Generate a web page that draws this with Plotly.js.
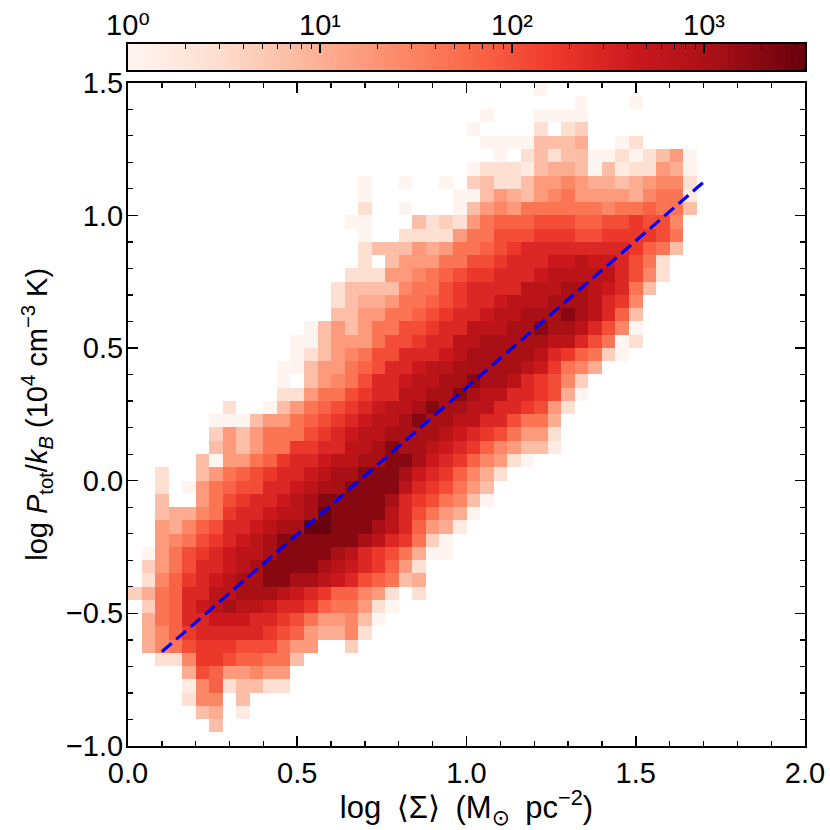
<!DOCTYPE html>
<html>
<head>
<meta charset="utf-8">
<script src="https://cdn.plot.ly/plotly-3.0.1.min.js"></script>
<style>
  html, body { margin: 0; padding: 0; background: #ffffff; }
  #chart { width: 830px; height: 830px; }
</style>
</head>
<body>
<div id="chart"></div>
<script>
// ---- data ----
// 2D histogram: 50 x-bins of 0.04 (0..2), 50 y-bins of 0.05 (-1..1.5)
const X_BIN_START = 0.0;
const X_BIN_WIDTH = 0.04;
const Y_BIN_START = -1.0;
const Y_BIN_WIDTH = 0.05;

// colour level of every cell, rows from top (y 1.45-1.50) to bottom (y -1.00 - -0.95)
// '.' = empty, 'a' .. 'r' = count level (see LEVEL_LOG10)
const CELL_ROWS_TOP_DOWN = [
  ".......... .......... .......... a......... ..........",
  ".......... .......... .......... ...a...a.. ..........",
  ".......... .......... ......a... aaaa...... ..........",
  ".......... .......... .....a.... c.cd...... ..........",
  ".......... .......... ......aaaa eeef..ac.. ..........",
  ".......... .......... .......a.c eceeaacace ga........",
  ".......... .......... .....acccb effeaebccg fa........",
  ".......... .......a.. a..a.decce gghgffefgh hc........",
  ".......... .......a.. ....aaegfe ghiggggfhi ib........",
  ".......... .......c.. a...aeghgi iiiiihiiji ie........",
  ".......... ......aa.. .ecdcgijjj kkkjjkklkk h.........",
  ".......... .......a.. ccccgiikkk lllkkllllk i.........",
  ".......... .......cee egfgiijklm mmmmmmmlji e.........",
  ".......... .......c.e gggiikklmm mnnonnmkic ..........",
  ".......... ......cccg ghijkllmmm nooooomkhc ..........",
  ".......... .....ceeee hiiklmmmmo oopponmie. ..........",
  ".......... .....ceffg iijklmmnoo opppomlh.. ..........",
  ".......... .....eeggi ijklmmnoop ppqpomje.. ..........",
  ".......... ...aegegii kklmmooopp qppomkha.. ..........",
  ".......... ..aaegggik klmmoopppp poomkiac.. ..........",
  ".......... ..aceghikk mmmnoppppp omljida... ..........",
  ".......... .aaeggijkm mnoopppppo nlihf..... ..........",
  ".......... .a.eghikmm nooppqppom lkhd...... ..........",
  ".......... .ccgiiklmm ooppqpoomm lkfa...... ..........",
  ".......c.. aegijklmno opqppoomml kgc....... ..........",
  "......aaae ggijklmnoo pqppoommki if........ ..........",
  "......dgeg iiiklmnoop ppponmlkig gc........ ..........",
  "......egeg iillmmoopq pponmljhge eb........ ..........",
  ".....eaggi jlmmnooppq qpnmljhgca .......... ..........",
  "..c..egijk lmmnoppqqq pnmljhfc.. .......... ..........",
  "..c.agijkk mmnoppqqqq omlkige... .......... ..........",
  "..e..giklm mnopqqqqqp mlkihea... .......... ..........",
  "..effhilmm nooprqqqqo mkigfa.... .......... ..........",
  "..gfhjkmmn opprrqqqpo mjgfb..... .......... ..........",
  "..ghiklmno pqqqqqqpom lida...... .......... ..........",
  ".agiklmnoo pqqqqpomlk ifaa...... .......... ..........",
  ".dgikmmnop qqqqponmlj gc........ .......... ..........",
  ".chjlmnopp qqpponmkji ef........ .......... ..........",
  "dfijmmoopp ponmljjhgc .c........ .......... ..........",
  ".dijmnopoo nmmljiigca .......... .......... ..........",
  ".fijmmnnnm mlkigghea. .......... .......... ..........",
  ".fhjlmmmmm lkjgffhc.. .......... .......... ..........",
  ".fhiklllkk kigg..d... .......... .......... ..........",
  "..cchllkjj iie....... .......... .......... ..........",
  "....fkjggh gg........ .......... .......... ..........",
  "....bhjcee cc........ .......... .......... ..........",
  "....chh.e. .......... .......... .......... ..........",
  ".....ef.b. .......... .......... .......... ..........",
  "......e... .......... .......... .......... ..........",
  ".......... .......... .......... .......... .........."
];

// log10(count) of each level letter
const LEVEL_LOG10 = {
  a: 0.00, b: 0.22, c: 0.44, d: 0.64, e: 0.84, f: 1.04, g: 1.24, h: 1.44, i: 1.64,
  j: 1.84, k: 2.04, l: 2.24, m: 2.44, n: 2.64, o: 2.84, p: 3.04, q: 3.30, r: 3.52
};
const COUNT_LOG10_MIN = 0.0;     // 10^0
const COUNT_LOG10_MAX = 3.526;   // ~3.4e3

// fitted relation (blue dashed line)
const FIT_X = [0.10, 1.70];
const FIT_Y = [-0.645, 1.125];

// colour bar tick labels
const CBAR_TICK_EXP = [0, 1, 2, 3];
const CBAR_TICK_TEXT = ["10\u2070", "10\u00B9", "10\u00B2", "10\u00B3"];

// ---- build ----
const z = CELL_ROWS_TOP_DOWN.slice().reverse().map(function (row) {
  return row.replace(/ /g, "").split("").map(function (ch) {
    return ch === "." ? null : LEVEL_LOG10[ch];
  });
});

const REDS = [
  [0.000, "#fff5f0"], [0.125, "#fee0d2"], [0.250, "#fcbba1"], [0.375, "#fc9272"],
  [0.500, "#fb6a4a"], [0.625, "#ef3b2c"], [0.750, "#cb181d"], [0.875, "#a50f15"],
  [1.000, "#67000d"]
];

// colour-scale strip (the colour bar itself, drawn on its own axis so its ticks sit on top)
const STRIP_N = 400;
const stripStep = (COUNT_LOG10_MAX - COUNT_LOG10_MIN) / STRIP_N;
const stripRow = [];
for (let i = 0; i < STRIP_N; i++) stripRow.push(COUNT_LOG10_MIN + (i + 0.5) * stripStep);

const minorCbar = [];
for (let n = 0; n < 4; n++) {
  for (let m = 2; m <= 9; m++) {
    const v = n + Math.log10(m);
    if (v < COUNT_LOG10_MAX) minorCbar.push(v);
  }
}

const FONT = "Liberation Sans, Arial, DejaVu Sans, sans-serif";
const FS_TICK = 29;
const FS_CBAR = 29;
const FS_TITLE = 29;
const FS_XTITLE = 31;

// vertical layout in pixels
const H = 830, W = 830;
const M = { l: 128, r: 25, t: 44, b: 84 };
const paperH = H - M.t - M.b;
const plotTopPx = 82.7, cbarBottomPx = 70;
const mainTop = (H - M.b - plotTopPx) / paperH;
const cbarBottom = (H - M.b - cbarBottomPx) / paperH;

const heat = {
  type: "heatmap",
  z: z,
  x0: X_BIN_START + X_BIN_WIDTH / 2, dx: X_BIN_WIDTH,
  y0: Y_BIN_START + Y_BIN_WIDTH / 2, dy: Y_BIN_WIDTH,
  coloraxis: "coloraxis",
  zsmooth: false,
  hoverongaps: false,
  xaxis: "x", yaxis: "y"
};

const fit = {
  type: "scatter", mode: "lines",
  x: FIT_X, y: FIT_Y,
  line: { color: "#0000ff", width: 3.2, dash: "13px,6px" },
  xaxis: "x", yaxis: "y",
  hoverinfo: "skip", showlegend: false
};

const strip = {
  type: "heatmap",
  z: [stripRow],
  x0: COUNT_LOG10_MIN + stripStep / 2, dx: stripStep,
  y0: 0.5, dy: 1,
  coloraxis: "coloraxis",
  zsmooth: false,
  xaxis: "x2", yaxis: "y2",
  hoverinfo: "skip"
};

const axisCommon = {
  showline: true, linecolor: "#000", linewidth: 2,
  mirror: "ticks",
  ticks: "inside", ticklen: 10, tickwidth: 1.6, tickcolor: "#000",
  showgrid: false, zeroline: false,
  tickfont: { family: FONT, size: FS_TICK, color: "#000" },
  tickformat: ".1f"
};

const SP = "\u2002";

const layout = {
  width: W, height: H,
  margin: M,
  paper_bgcolor: "#ffffff", plot_bgcolor: "#ffffff",
  showlegend: false,
  font: { family: FONT, size: FS_TICK, color: "#000" },
  xaxis: Object.assign({}, axisCommon, {
    domain: [0, 1], anchor: "y",
    range: [0, 2], tick0: 0, dtick: 0.5,
    minor: { dtick: 0.1, tick0: 0, ticks: "inside", ticklen: 5, tickwidth: 1.3, tickcolor: "#000" },
    title: { text: "log" + SP + "\u27E8\u03A3\u27E9" + SP + "(M<sub>\u2299</sub>" + SP + "pc<sup>\u22122</sup>)",
             font: { family: FONT, size: FS_XTITLE, color: "#000" }, standoff: 2 }
  }),
  yaxis: Object.assign({}, axisCommon, {
    domain: [0, mainTop], anchor: "x",
    range: [-1, 1.5], tick0: -1, dtick: 0.5,
    minor: { dtick: 0.1, tick0: 0, ticks: "inside", ticklen: 5, tickwidth: 1.3, tickcolor: "#000" },
    ticklabelstandoff: -3,
    title: { text: "log <i>P</i><sub>tot</sub>/<i>k<sub>B</sub></i> (10<sup>4</sup> cm<sup>\u22123</sup> K)",
             font: { family: FONT, size: FS_TITLE, color: "#000" }, standoff: 10 }
  }),
  xaxis2: {
    domain: [0, 1], anchor: "y2", side: "top",
    range: [COUNT_LOG10_MIN, COUNT_LOG10_MAX],
    showline: true, linecolor: "#000", linewidth: 2, mirror: true,
    showgrid: false, zeroline: false,
    ticks: "inside", ticklen: 9, tickwidth: 1.6, tickcolor: "#000",
    tickmode: "array", tickvals: CBAR_TICK_EXP, ticktext: CBAR_TICK_TEXT,
    minor: { tickmode: "array", tickvals: minorCbar, ticks: "inside", ticklen: 4.5, tickwidth: 1.3, tickcolor: "#000" },
    tickfont: { family: FONT, size: FS_CBAR, color: "#000" },
    ticklabelstandoff: -5,
    fixedrange: true
  },
  yaxis2: {
    domain: [cbarBottom, 1], anchor: "x2",
    range: [0, 1], fixedrange: true,
    showline: true, linecolor: "#000", linewidth: 2, mirror: true,
    showgrid: false, zeroline: false, ticks: "", showticklabels: false
  },
  coloraxis: {
    colorscale: REDS, cmin: COUNT_LOG10_MIN, cmax: COUNT_LOG10_MAX,
    showscale: false
  }
};

Plotly.newPlot("chart", [heat, fit, strip], layout, { displayModeBar: false, staticPlot: true });
</script>
</body>
</html>
